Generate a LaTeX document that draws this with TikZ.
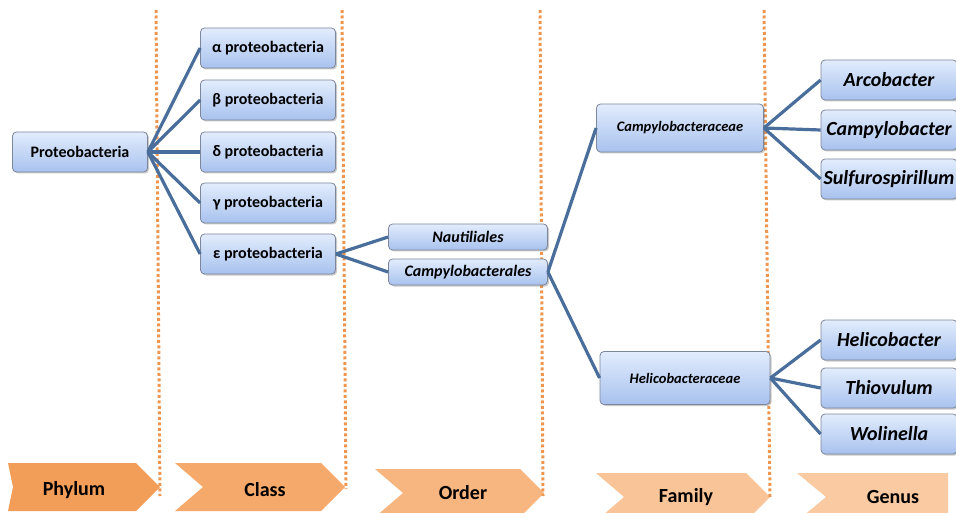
\documentclass[tikz,border=0pt]{standalone}
\usepackage{fontspec}
\setmainfont{Carlito}
\usetikzlibrary{shadows}
\definecolor{lnblue}{RGB}{74,110,155}
\definecolor{dotor}{RGB}{238,150,80}
\definecolor{boxtop}{RGB}{226,236,252}
\definecolor{boxbot}{RGB}{168,194,238}
\definecolor{boxedge}{RGB}{125,135,155}
\definecolor{cA}{RGB}{243,158,88}
\definecolor{cB}{RGB}{245,170,108}
\definecolor{cC}{RGB}{247,182,128}
\definecolor{cD}{RGB}{249,196,152}
\definecolor{cE}{RGB}{250,202,162}
\tikzset{
  taxbox/.style={draw=boxedge, line width=0.8pt, rounded corners=4pt,
    top color=boxtop, bottom color=boxbot, inner sep=0pt,
    drop shadow={shadow xshift=1.5pt, shadow yshift=-1.5pt, opacity=0.35, fill=black!60},
    font=\bfseries, text=black},
  classbox/.style={taxbox, minimum width=135pt, minimum height=40pt, font=\bfseries\fontsize{16}{18}\selectfont},
  ordbox/.style={taxbox, minimum width=159pt, minimum height=26pt, font=\bfseries\itshape\fontsize{16}{18}\selectfont},
  fambox/.style={taxbox, font=\bfseries\itshape\fontsize{14.5}{16}\selectfont},
  genbox/.style={taxbox, minimum width=136pt, minimum height=40pt, font=\bfseries\itshape\fontsize{20}{22}\selectfont},
  link/.style={draw=lnblue, line width=3.2pt},
  rankline/.style={draw=dotor, line width=3pt, dash pattern=on 3pt off 2.5pt},
  ranklabel/.style={font=\bfseries\fontsize{20}{22}\selectfont, text=black}
}
\begin{document}
\begin{tikzpicture}[x=1pt,y=-1pt]
\useasboundingbox (0,0) rectangle (956,513);
% rank chevrons
\fill[cA] (8,463) -- (136,463) -- (160,487) -- (136,511) -- (8,511) -- (13,487) -- cycle;
\fill[cB] (175,463) -- (321,463) -- (345,487) -- (321,511) -- (175,511) -- (203,487) -- cycle;
\fill[cC] (375,469) -- (520,469) -- (544,493) -- (520,517) -- (375,517) -- (403,493) -- cycle;
\fill[cD] (596,473) -- (746,473) -- (770,497) -- (746,521) -- (596,521) -- (624,497) -- cycle;
\fill[cE] (797,473) -- (948,473) -- (948,521) -- (797,521) -- (826,497) -- cycle;
\node[ranklabel] (rP) at (74,490) {Phylum};
\node[ranklabel] (rC) at (265,490) {Class};
\node[ranklabel] (rO) at (463,493) {Order};
\node[ranklabel] (rF) at (686,497) {Family};
\node[ranklabel] (rG) at (893,497) {Genus};
% dotted rank separators
\coordinate (s1t) at (156,10); \coordinate (s1b) at (160,496);
\coordinate (s2t) at (342,10); \coordinate (s2b) at (346,489);
\coordinate (s3t) at (540,10); \coordinate (s3b) at (543,496);
\coordinate (s4t) at (764,10); \coordinate (s4b) at (770,497);
\draw[rankline] (s1t) -- (s1b);
\draw[rankline] (s2t) -- (s2b);
\draw[rankline] (s3t) -- (s3b);
\draw[rankline] (s4t) -- (s4b);
% nodes
\node[classbox] (proteo) at (80,152) {Proteobacteria};
\node[classbox] (alpha) at (268,48) {α proteobacteria};
\node[classbox] (beta) at (268,100) {β proteobacteria};
\node[classbox] (delta) at (268,152) {δ proteobacteria};
\node[classbox] (gamma) at (268,203) {γ proteobacteria};
\node[classbox] (eps) at (268,254) {ε proteobacteria};
\node[ordbox] (naut) at (468,237) {Nautiliales};
\node[ordbox] (campO) at (468,272) {Campylobacterales};
\node[fambox, minimum width=167pt, minimum height=48pt] (campF) at (680,128) {Campylobacteraceae};
\node[fambox, minimum width=170pt, minimum height=53pt] (heliF) at (685,378) {Helicobacteraceae};
\node[genbox] (arco) at (889,80) {Arcobacter};
\node[genbox] (campG) at (889,130) {Campylobacter};
\node[genbox] (sulf) at (889,179) {Sulfurospirillum};
\node[genbox] (heliG) at (889,340) {Helicobacter};
\node[genbox] (thio) at (889,388) {Thiovulum};
\node[genbox] (woli) at (889,434) {Wolinella};
% connectors
\foreach \c in {alpha,beta,delta,gamma,eps} \draw[link] (proteo.east) -- (\c.west);
\draw[link] (eps.east) -- (naut.west);
\draw[link] (eps.east) -- (campO.west);
\draw[link] (campO.east) -- (campF.west);
\draw[link] (campO.east) -- (heliF.west);
\foreach \c in {arco,campG,sulf} \draw[link] (campF.east) -- (\c.west);
\foreach \c in {heliG,thio,woli} \draw[link] (heliF.east) -- (\c.west);
\end{tikzpicture}
\end{document}
